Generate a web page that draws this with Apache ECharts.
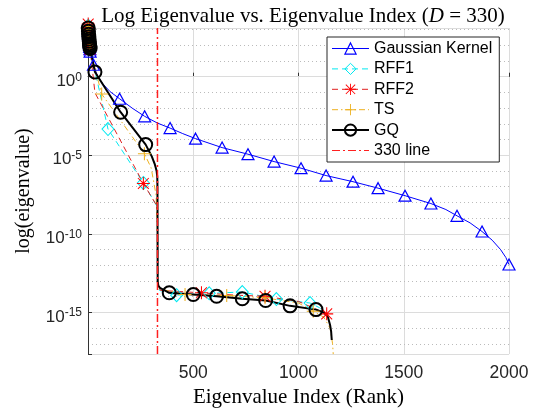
<!DOCTYPE html>
<html>
<head>
<meta charset="utf-8">
<script src="https://cdn.jsdelivr.net/npm/echarts@6/dist/echarts.min.js"></script>
<style>
html, body { margin: 0; padding: 0; background: #fff; }
#chart { width: 539px; height: 413px; }
#err { position: absolute; left: 0; top: 200px; font: 11px sans-serif; color: #c00; }
</style>
</head>
<body>
<div id="chart"></div>
<div id="err"></div>
<script>
window.addEventListener('error', e => { document.getElementById('err').textContent += ' ' + e.message })

// eigenvalue index (rank) and log10(eigenvalue)
const blob = [1, 2, 3, 4, 5, 6, 7, 8, 9, 10]

const gaussIdx = blob.concat([26, 45, 70, 105, 150, 210, 269, 330, 390, 450, 511, 637, 760, 884, 1012, 1131, 1259, 1378, 1506, 1629, 1700, 1753, 1815, 1872, 1920, 1960, 1985, 2000])
const gaussLog = [3.1, 2.9, 2.7, 2.5, 2.35, 2.2, 2.05, 1.9, 1.75, 1.6, 0.76, 0.05, -0.45, -0.95, -1.4, -2.0, -2.52, -2.95, -3.27, -3.62, -3.94, -4.51, -4.93, -5.40, -5.82, -6.29, -6.68, -7.09, -7.57, -8.07, -8.45, -8.85, -9.3, -9.85, -10.4, -11.0, -11.5, -11.95]
const gaussMarks = blob.concat([26, 150, 269, 390, 511, 637, 760, 884, 1012, 1131, 1259, 1378, 1506, 1629, 1753, 1872, 2000])

const rff1Idx = blob.concat([95, 263, 330, 331, 340, 421, 576, 733, 895, 1055, 1100, 1130])
const rff1Log = [3.25, 3.05, 2.85, 2.65, 2.5, 2.35, 2.2, 2.05, 1.9, 1.75, -3.33, -6.76, -8.3, -13.2, -13.6, -13.9, -13.78, -13.7, -14.15, -14.4, -14.7, -15.1]
const rff1Marks = blob.concat([95, 263, 421, 576, 733, 895, 1055])

const rff2Idx = blob.concat([33, 263, 330, 331, 345, 539, 700, 841, 1000, 1134])
const rff2Log = [3.35, 3.1, 2.9, 2.7, 2.5, 2.35, 2.2, 2.05, 1.9, 1.75, -1.02, -6.79, -8.28, -13.2, -13.6, -13.75, -13.9, -13.97, -14.3, -15.09]
const rff2Marks = blob.concat([263, 539, 841, 1134])

const tsIdx = blob.concat([65, 268, 300, 323, 329, 331, 340, 461, 659, 841, 1000, 1070, 1120, 1150, 1162, 1165])
const tsLog = [3.2, 3.0, 2.8, 2.6, 2.45, 2.3, 2.15, 2.0, 1.85, 1.7, -1.1, -4.9, -5.8, -7.5, -9.5, -13.2, -13.5, -13.86, -13.92, -14.07, -14.4, -14.92, -15.3, -16.0, -17.0, -17.65]
const tsMarks = blob.concat([65, 268, 461, 659, 841, 1070])

const gqIdx = blob.concat([33, 155, 274, 303, 318, 326, 329, 330, 331, 334, 342, 386, 500, 611, 733, 844, 960, 1083, 1120, 1140, 1150, 1155, 1158])
const gqLog = [3.1, 2.9, 2.7, 2.55, 2.4, 2.25, 2.1, 2.0, 1.9, 1.8, 0.3, -2.26, -4.32, -5.07, -5.6, -6.0, -6.34, -7.0, -13.0, -13.3, -13.43, -13.75, -13.86, -13.97, -14.13, -14.24, -14.58, -14.82, -15.0, -15.3, -15.8, -16.2, -16.75]
const gqMarks = blob.concat([33, 155, 274, 386, 500, 611, 733, 844, 960, 1083])

const dLine = 330
const xTicks = [500, 1000, 1500, 2000]
const yMin = -17.65
const yMax = 3.1

const asterisk = 'path://M0,9.2H20V10.8H0Z M9.2,0H10.8V20H9.2Z M1.1,2.2L2.2,1.1L18.9,17.8L17.8,18.9Z M17.8,1.1L18.9,2.2L2.2,18.9L1.1,17.8Z'
const plus = 'path://M0,9.2H20V10.8H0Z M9.2,0H10.8V20H9.2Z'

function build(idx, val, marks) {
  return idx.map((x, i) => marks.includes(x) ? [x, val[i]] : { value: [x, val[i]], symbol: 'none' })
}

const chart = echarts.init(document.getElementById('chart'))
const axisColor = '#333'
const sans = 'Liberation Sans'
const serif = 'Liberation Serif'

try {
chart.setOption({
  animation: false,
  title: {
    text: '{a|Log Eigenvalue vs. Eigenvalue Index (}{i|D}{a| = 330)}',
    left: 298,
    top: 1,
    textAlign: 'center',
    textStyle: {
      fontWeight: 'normal',
      rich: {
        a: { fontFamily: serif, fontSize: 21, fontWeight: 'normal', color: '#000' },
        i: { fontFamily: serif, fontSize: 21, fontWeight: 'normal', fontStyle: 'italic', color: '#000' }
      }
    }
  },
  grid: { left: 88, right: 30, top: 28, bottom: 58 },
  legend: {
    orient: 'vertical',
    left: 327,
    top: 37,
    itemWidth: 37,
    itemHeight: 14,
    itemGap: 4.4,
    padding: [3.5, 7, 3.5, 4],
    backgroundColor: '#fff',
    borderColor: '#262626',
    borderWidth: 1,
    borderRadius: 0,
    textStyle: { fontFamily: sans, fontSize: 16, color: '#000', lineHeight: 16 },
    data: [
      { name: 'Gaussian Kernel', itemStyle: { borderWidth: 1.2 }, lineStyle: { width: 1 } },
      { name: 'RFF1', itemStyle: { borderWidth: 1 }, lineStyle: { width: 1 } },
      { name: 'RFF2', lineStyle: { width: 1 } },
      { name: 'TS', lineStyle: { width: 1 } },
      { name: 'GQ', itemStyle: { borderWidth: 2 }, lineStyle: { width: 2 } },
      { name: '330 line', itemStyle: { opacity: 0 }, lineStyle: { width: 1 } }
    ]
  },
  xAxis: {
    type: 'value',
    min: 0,
    max: 2000,
    interval: 500,
    name: 'Eigenvalue Index (Rank)',
    nameLocation: 'middle',
    nameGap: 30,
    nameTextStyle: { fontFamily: serif, fontSize: 21, color: '#000' },
    axisLine: { lineStyle: { color: axisColor } },
    axisTick: { show: true, inside: true, length: 4, lineStyle: { color: axisColor } },
    axisLabel: {
      margin: 10,
      fontFamily: sans,
      fontSize: 17.5,
      color: '#262626',
      formatter: v => xTicks.includes(v) ? String(v) : ''
    },
    splitLine: { show: true, lineStyle: { color: '#dcdcdc', width: 1 } }
  },
  yAxis: [
    {
      type: 'value',
      min: yMin,
      max: yMax,
      splitNumber: 4,
      z: 2,
      name: 'log(eigenvalue)',
      nameLocation: 'middle',
      nameGap: 54,
      nameRotate: 90,
      nameTextStyle: { fontFamily: serif, fontSize: 20, color: '#000' },
      axisLine: { show: true, lineStyle: { color: axisColor } },
      axisTick: { show: true, inside: true, length: 4, lineStyle: { color: axisColor } },
      axisLabel: {
        margin: 6,
        padding: [9, 0, 0, 0],
        formatter: v => (Math.abs(v % 5) < 1e-6 && v > yMin + 0.1 && v < yMax - 0.1) ? '{n|10}{s|' + Math.round(v) + '}' : '',
        rich: {
          n: { fontFamily: sans, fontSize: 17, color: '#262626' },
          s: { fontFamily: sans, fontSize: 12, color: '#262626', padding: [0, 0, 8, 0] }
        }
      },
      splitLine: { show: true, lineStyle: { color: '#dcdcdc', width: 1 } }
    },
    {
      type: 'value',
      min: yMin,
      max: yMax,
      splitNumber: 20,
      position: 'left',
      z: 1,
      axisLine: { show: false },
      axisTick: { show: false },
      axisLabel: { show: false },
      splitLine: { show: true, lineStyle: { color: '#bbbbbb', width: 1, type: [1, 3] } }
    }
  ],
  series: [
    {
      name: 'Gaussian Kernel',
      type: 'line',
      clip: false,
      symbol: 'triangle',
      symbolSize: [12, 11],
      itemStyle: { color: 'rgba(0,0,0,0)', borderColor: '#0000ff', borderWidth: 1.2 },
      lineStyle: { color: '#0000ff', width: 1 },
      data: build(gaussIdx, gaussLog, gaussMarks)
    },
    {
      name: 'RFF1',
      type: 'line',
      clip: false,
      symbol: 'diamond',
      symbolSize: [12, 13],
      itemStyle: { color: 'rgba(0,0,0,0)', borderColor: '#00e8f0', borderWidth: 1 },
      lineStyle: { color: '#00e8f0', width: 1, type: [6, 4] },
      data: build(rff1Idx, rff1Log, rff1Marks)
    },
    {
      name: 'RFF2',
      type: 'line',
      clip: false,
      symbol: asterisk,
      symbolSize: 13,
      itemStyle: { color: '#ff0000', borderWidth: 0 },
      lineStyle: { color: '#e02020', width: 1, type: [6, 4] },
      data: build(rff2Idx, rff2Log, rff2Marks)
    },
    {
      name: 'TS',
      type: 'line',
      clip: false,
      symbol: plus,
      symbolSize: 13,
      itemStyle: { color: '#EDB120', borderWidth: 0 },
      lineStyle: { color: '#EDB120', width: 1, type: [6, 3, 1.5, 3] },
      data: build(tsIdx, tsLog, tsMarks)
    },
    {
      name: 'GQ',
      type: 'line',
      clip: false,
      symbol: 'circle',
      symbolSize: 13,
      itemStyle: { color: 'rgba(0,0,0,0)', borderColor: '#000', borderWidth: 2 },
      lineStyle: { color: '#000', width: 2 },
      data: build(gqIdx, gqLog, gqMarks)
    },
    {
      name: '330 line',
      type: 'line',
      symbol: 'none',
      lineStyle: { color: '#ff2020', width: 1.5, type: [8, 3, 2, 3] },
      data: [[dLine, yMin], [dLine, yMax]]
    }
  ]
})
} catch (e) {
  document.getElementById('err').textContent += ' ' + e.message
}
</script>
</body>
</html>
